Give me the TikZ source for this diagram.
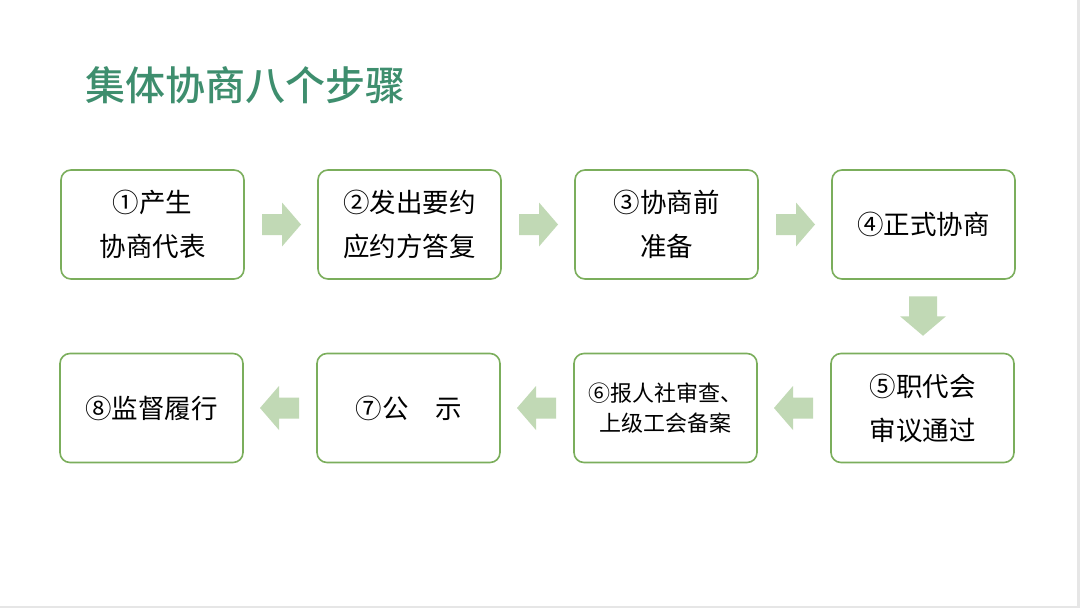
\documentclass[tikz,border=0pt]{standalone}
\usepackage{fontspec}
\setmainfont{Noto Sans CJK SC}
\newfontfamily\cjk{Noto Sans CJK SC}
\newfontfamily\cjkmed{Noto Sans CJK SC Medium}
\definecolor{titlegreen}{HTML}{3E8E6E}
\definecolor{boxborder}{HTML}{7BAE5C}
\definecolor{arrowfill}{HTML}{C1D9B5}
\definecolor{edgegray}{HTML}{E6E6E6}
\tikzset{
  stepbox/.style={draw=boxborder, line width=1.6pt, rounded corners=10pt, fill=white,
    minimum width=183pt, minimum height=109pt, inner sep=0pt, align=center,
    font=\cjk\fontsize{26.5}{44}\selectfont},
  smalltext/.style={font=\cjk\fontsize{22}{30}\selectfont},
  blockarrow/.style={fill=arrowfill, draw=none}
}
\begin{document}
\begin{tikzpicture}[x=1pt,y=-1pt]
\useasboundingbox (0,0) rectangle (1080,608);
\fill[edgegray] (0,0) rectangle (1080,608);
\fill[white] (0,0) rectangle (1076.5,605.5);
\node[anchor=west, text=titlegreen, font=\cjkmed\fontsize{40}{44}\selectfont] (title) at (82,85) {集体协商八个步骤};
% row 1
\node[stepbox] (b1) at (152.5,224.5) {①产生\\协商代表};
\node[stepbox] (b2) at (409.5,224.5) {②发出要约\\应约方答复};
\node[stepbox] (b3) at (666.5,224.5) {③协商前\\准备};
\node[stepbox] (b4) at (923.5,224.5) {④正式协商};
% row 2
\node[stepbox] (b5) at (922.5,408) {⑤职代会\\审议通过};
\node[stepbox, smalltext] (b6) at (665.5,408) {⑥报人社审查、\\上级工会备案};
\node[stepbox] (b7) at (408.5,408) {⑦公\hspace{1em}示};
\node[stepbox] (b8) at (151.5,408) {⑧监督履行};
% right arrows (row 1)
\foreach \a/\b in {b1/b2, b2/b3, b3/b4} {
  \path (\a.east) -- (\b.west) coordinate[pos=0.5] (m\a);
  \fill[blockarrow] ([shift={(-19,-10.5)}]m\a) -- ([shift={(1,-10.5)}]m\a) -- ([shift={(1,-22)}]m\a)
     -- ([shift={(20,0)}]m\a) -- ([shift={(1,22)}]m\a) -- ([shift={(1,10.5)}]m\a) -- ([shift={(-19,10.5)}]m\a) -- cycle;
}
% left arrows (row 2)
\foreach \a/\b in {b5/b6, b6/b7, b7/b8} {
  \path (\a.west) -- (\b.east) coordinate[pos=0.5] (m\a);
  \fill[blockarrow] ([shift={(19,-10.5)}]m\a) -- ([shift={(-1,-10.5)}]m\a) -- ([shift={(-1,-22)}]m\a)
     -- ([shift={(-20,0)}]m\a) -- ([shift={(-1,22)}]m\a) -- ([shift={(-1,10.5)}]m\a) -- ([shift={(19,10.5)}]m\a) -- cycle;
}
% down arrow
\path (b4.south) -- (b5.north) coordinate[pos=0.5] (md);
\fill[blockarrow] ([shift={(-14,-20)}]md) -- ([shift={(14,-20)}]md) -- ([shift={(14,0)}]md)
   -- ([shift={(23,0)}]md) -- ([shift={(0,19.5)}]md) -- ([shift={(-23,0)}]md) -- ([shift={(-14,0)}]md) -- cycle;
\end{tikzpicture}
\end{document}
